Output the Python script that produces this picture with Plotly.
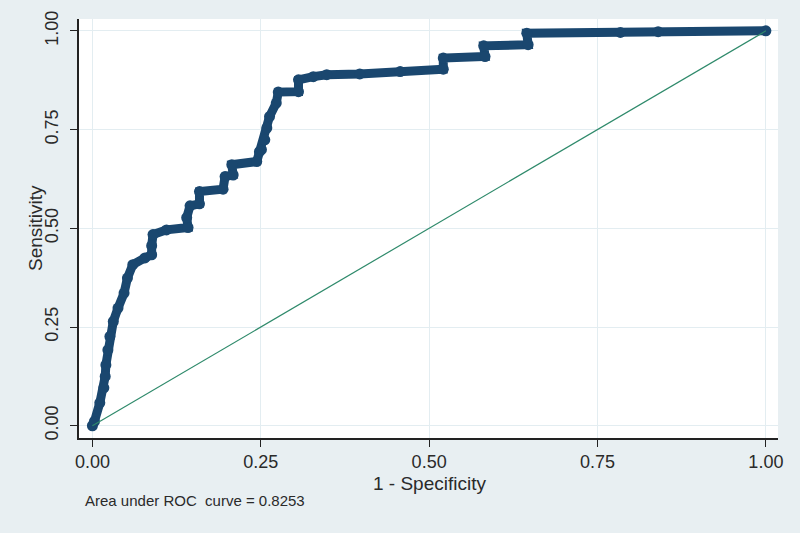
import plotly.graph_objects as go

# ROC points (1 - specificity, sensitivity)
fpr = [0.000, 0.003, 0.011, 0.017, 0.019, 0.020, 0.023, 0.026, 0.031, 0.038,
       0.047, 0.052, 0.060, 0.078, 0.088, 0.088, 0.090, 0.110, 0.142, 0.140,
       0.145, 0.159, 0.159, 0.194, 0.197, 0.209, 0.207, 0.244, 0.248, 0.251,
       0.256, 0.259, 0.263, 0.273, 0.276, 0.306, 0.306, 0.328, 0.348, 0.397,
       0.457, 0.521, 0.521, 0.583, 0.581, 0.647, 0.645, 0.784, 0.840, 1.000]
tpr = [0.000, 0.011, 0.058, 0.096, 0.125, 0.154, 0.192, 0.226, 0.264, 0.298,
       0.336, 0.374, 0.408, 0.425, 0.433, 0.456, 0.484, 0.496, 0.502, 0.527,
       0.557, 0.562, 0.593, 0.599, 0.631, 0.635, 0.661, 0.669, 0.694, 0.699,
       0.724, 0.754, 0.783, 0.817, 0.845, 0.846, 0.876, 0.884, 0.889, 0.891,
       0.897, 0.903, 0.931, 0.935, 0.962, 0.965, 0.994, 0.996, 0.998, 1.000]

ref_line = [0, 1]
tick_vals = [0, 0.25, 0.5, 0.75, 1]
auc_text = "Area under ROC  curve = 0.8253"

navy = "#1a476f"
bg = "#e8eff2"
grid = "#e3edf1"

fig = go.Figure()
fig.add_trace(go.Scatter(
    x=fpr, y=tpr, mode="lines+markers",
    line=dict(color=navy, width=9),
    marker=dict(color=navy, size=11, symbol="circle"),
    showlegend=False, hoverinfo="skip"))
fig.add_trace(go.Scatter(
    x=ref_line, y=ref_line, mode="lines",
    line=dict(color="#2f8a6b", width=1.2),
    showlegend=False, hoverinfo="skip"))

axis_common = dict(
    tickvals=tick_vals, tickformat=".2f", showgrid=True, gridcolor=grid,
    gridwidth=1, zeroline=False, showline=True, linecolor="#222222",
    linewidth=1.5, ticks="outside", ticklen=7, tickcolor="#222222",
    tickwidth=1.3, tickfont=dict(family="Liberation Sans, Arial", size=18, color="#2a2a2a"))

fig.update_xaxes(range=[-0.0199, 1.018], ticklabelstandoff=0, **axis_common)
fig.update_yaxes(range=[-0.031, 1.030], tickangle=-90, ticklabelstandoff=5, **axis_common)

fig.update_layout(
    width=800, height=533,
    margin=dict(l=79, r=22, t=19, b=95),
    paper_bgcolor=bg, plot_bgcolor="white",
    font=dict(family="Liberation Sans, Arial", color="#2a2a2a"),
    annotations=[
        dict(text="1 - Specificity", x=0.502, y=-0.108, xref="paper", yref="paper",
             showarrow=False, font=dict(size=19), xanchor="center", yanchor="middle"),
        dict(text="Sensitivity", x=-0.063, y=0.501, xref="paper", yref="paper",
             showarrow=False, font=dict(size=19), textangle=-90,
             xanchor="center", yanchor="middle"),
        dict(text=auc_text, x=0.0057, y=-0.148, xref="paper", yref="paper",
             showarrow=False, font=dict(size=15), xanchor="left", yanchor="middle"),
    ])

fig.write_html("out.html", config={"displayModeBar": False},
               post_script="document.body.style.margin='0';")
